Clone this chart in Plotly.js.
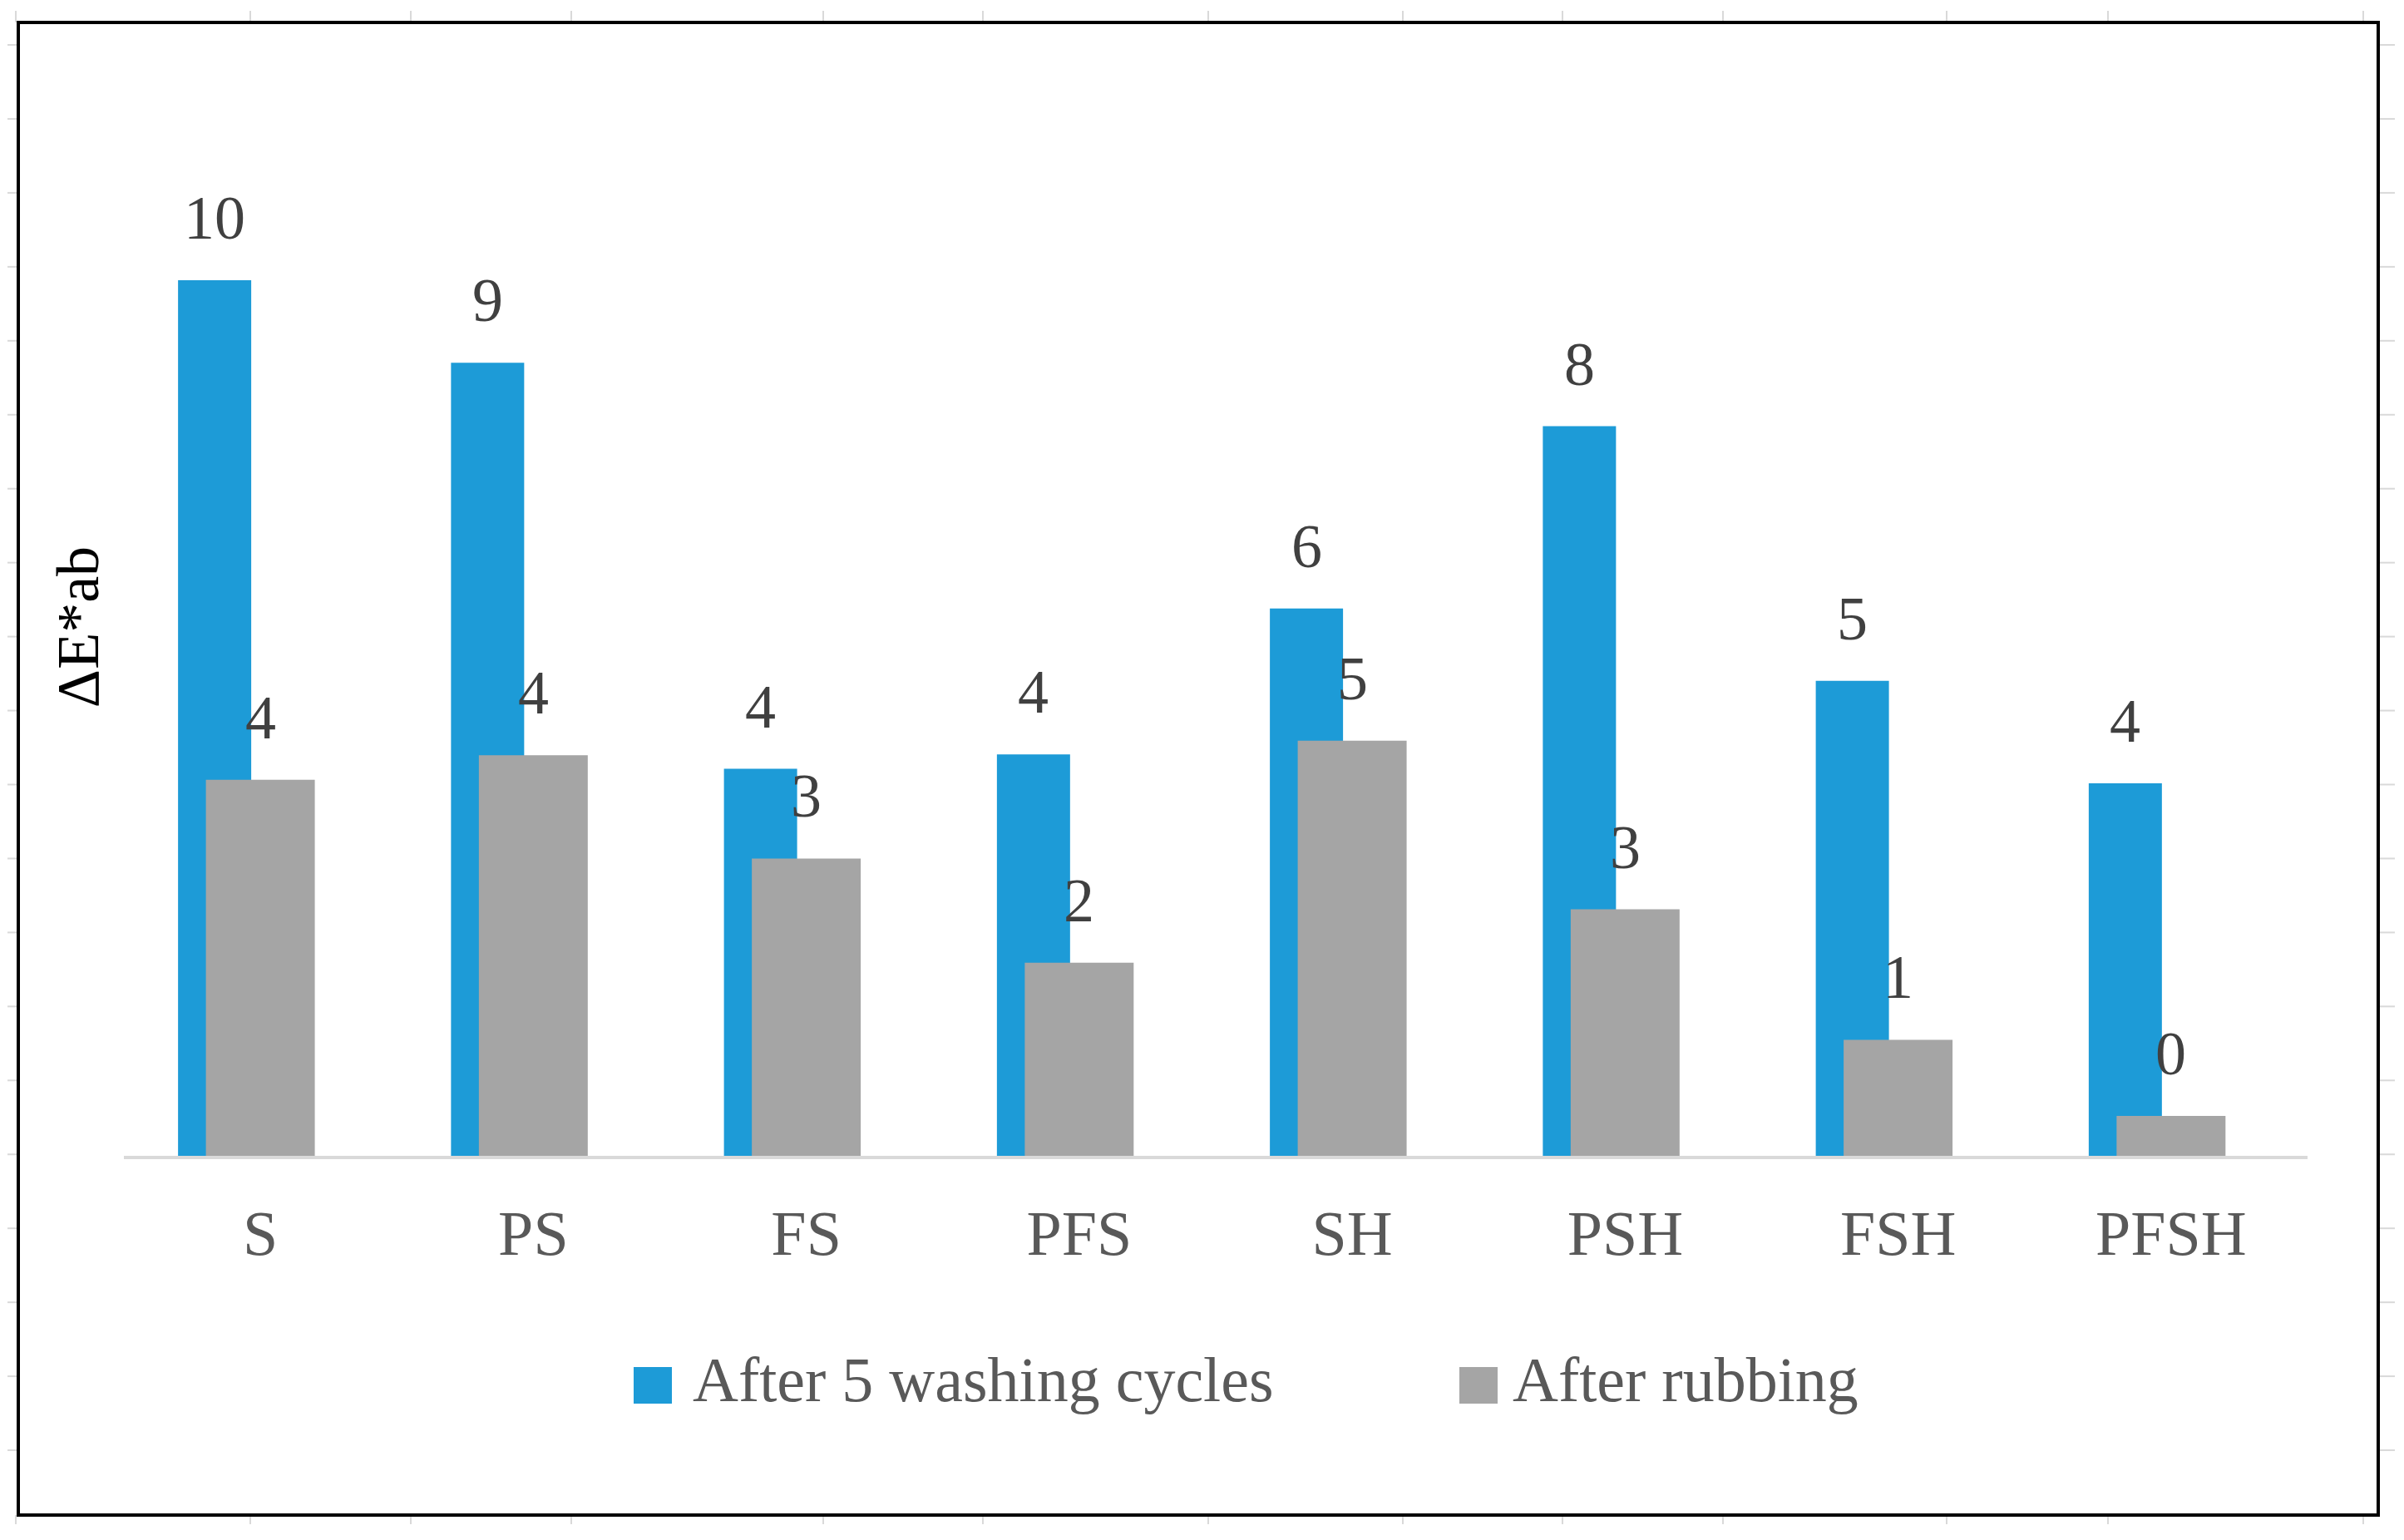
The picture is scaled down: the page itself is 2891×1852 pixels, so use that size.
<!DOCTYPE html>
<html>
<head>
<meta charset="utf-8">
<script src="https://cdn.plot.ly/plotly-3.0.1.min.js"></script>
<style>html,body{margin:0;padding:0;background:#fff;}#chart{width:2891px;height:1852px;}</style>
</head>
<body>
<div id="chart"></div>
<script>
// ---- data ----
const categories = ['S', 'PS', 'FS', 'PFS', 'SH', 'PSH', 'FSH', 'PFSH'];
const washing = [9.66, 8.75, 4.27, 4.43, 6.04, 8.05, 5.24, 4.11];
const rubbing = [4.15, 4.42, 3.28, 2.13, 4.58, 2.72, 1.28, 0.44];
const seriesNames = ['After 5 washing cycles', 'After rubbing'];
const yTitle = 'ΔE*ab';

// ---- style ----
const W = 2891, H = 1852;
const M = {l: 149, r: 116, t: 118, b: 462};
const blue = '#1d9bd7', gray = '#a5a5a5';
const serif = 'Liberation Serif, Times New Roman, serif';
const blueW = 0.268, blueOff = -0.3016;
const grayW = 0.399, grayOff = -0.1996;
const pxPerUnit = 109;

const pw = W - M.l - M.r, ph = H - M.t - M.b;
const px2x = p => (p - M.l) / pw;
const px2y = p => (H - M.b - p) / ph;

const traces = [
  {type: 'bar', name: seriesNames[0], x: categories, y: washing,
   width: blueW, offset: blueOff, marker: {color: blue, opacity: 1, line: {width: 0}},
   hoverinfo: 'skip', showlegend: false},
  {type: 'bar', name: seriesNames[1], x: categories, y: rubbing,
   width: grayW, offset: grayOff, marker: {color: gray, opacity: 1, line: {width: 0}},
   hoverinfo: 'skip', showlegend: false}
];

const annotations = [];
const labelFont = {family: serif, size: 74, color: '#404040'};
categories.forEach((c, i) => {
  annotations.push({xref: 'x', yref: 'y', x: i + blueOff + blueW / 2, y: washing[i],
    text: String(Math.round(washing[i])), showarrow: false, yanchor: 'middle', yshift: 75, font: labelFont});
  annotations.push({xref: 'x', yref: 'y', x: i + grayOff + grayW / 2, y: rubbing[i],
    text: String(Math.round(rubbing[i])), showarrow: false, yanchor: 'middle', yshift: 75, font: labelFont});
});

// custom legend (large swatches)
const legFont = {family: serif, size: 76, color: '#595959'};
const legendItems = [
  {color: blue, name: seriesNames[0], sw: 785, tx: 831},
  {color: gray, name: seriesNames[1], sw: 1778, tx: 1817}
];
legendItems.forEach(it => {
  annotations.push({xref: 'paper', yref: 'paper', x: px2x(it.sw), y: px2y(1666), text: ' ',
    width: 46, height: 44, bgcolor: it.color, borderpad: 0, borderwidth: 0,
    showarrow: false, xanchor: 'center', yanchor: 'middle'});
  annotations.push({xref: 'paper', yref: 'paper', x: px2x(it.tx), y: px2y(1659), text: it.name,
    showarrow: false, xanchor: 'left', yanchor: 'middle', font: legFont});
});

// frame and faint sheet-cell ticks around it
const shapes = [];
const fr = {x0: 22, x1: 2860, y0: 27, y1: 1822};
const tickColor = '#d9d9d9';
const cols = [19, 301, 494, 687, 990, 1182, 1453, 1687, 1879, 2072, 2341, 2535, 2842];
cols.forEach(cx => {
  shapes.push({type: 'line', xref: 'paper', yref: 'paper', x0: px2x(cx), x1: px2x(cx), y0: px2y(13), y1: px2y(fr.y0), line: {color: tickColor, width: 2}});
  shapes.push({type: 'line', xref: 'paper', yref: 'paper', x0: px2x(cx), x1: px2x(cx), y0: px2y(fr.y1), y1: px2y(1833), line: {color: tickColor, width: 2}});
});
for (let r = 0; r <= 20; r++) {
  const ry = 54 + 88.95 * r;
  if (ry > fr.y1) break;
  shapes.push({type: 'line', xref: 'paper', yref: 'paper', x0: px2x(9), x1: px2x(fr.x0), y0: px2y(ry), y1: px2y(ry), line: {color: tickColor, width: 2}});
  shapes.push({type: 'line', xref: 'paper', yref: 'paper', x0: px2x(fr.x1), x1: px2x(2880), y0: px2y(ry), y1: px2y(ry), line: {color: tickColor, width: 2}});
}
shapes.push({type: 'rect', xref: 'paper', yref: 'paper', x0: px2x(fr.x0), x1: px2x(fr.x1), y0: px2y(fr.y1), y1: px2y(fr.y0),
  line: {color: '#000', width: 4}, fillcolor: 'rgba(0,0,0,0)', layer: 'above'});

const layout = {
  width: W, height: H,
  margin: M,
  paper_bgcolor: '#fff', plot_bgcolor: '#fff',
  barmode: 'overlay',
  showlegend: false,
  xaxis: {type: 'category', range: [-0.5, 7.5], showline: true, linecolor: '#d9d9d9', linewidth: 4,
    ticks: '', showgrid: false, zeroline: false, ticklabelstandoff: 24,
    tickfont: {family: serif, size: 76, color: '#595959'}, automargin: false},
  yaxis: {range: [0, ph / pxPerUnit], showline: false, showgrid: false, zeroline: false, showticklabels: false, ticks: '',
    automargin: false,
    title: {text: yTitle, font: {family: serif, size: 72, color: '#000'}, standoff: 5}},
  annotations: annotations,
  shapes: shapes
};

Plotly.newPlot('chart', traces, layout, {staticPlot: true, displayModeBar: false});
</script>
</body>
</html>
